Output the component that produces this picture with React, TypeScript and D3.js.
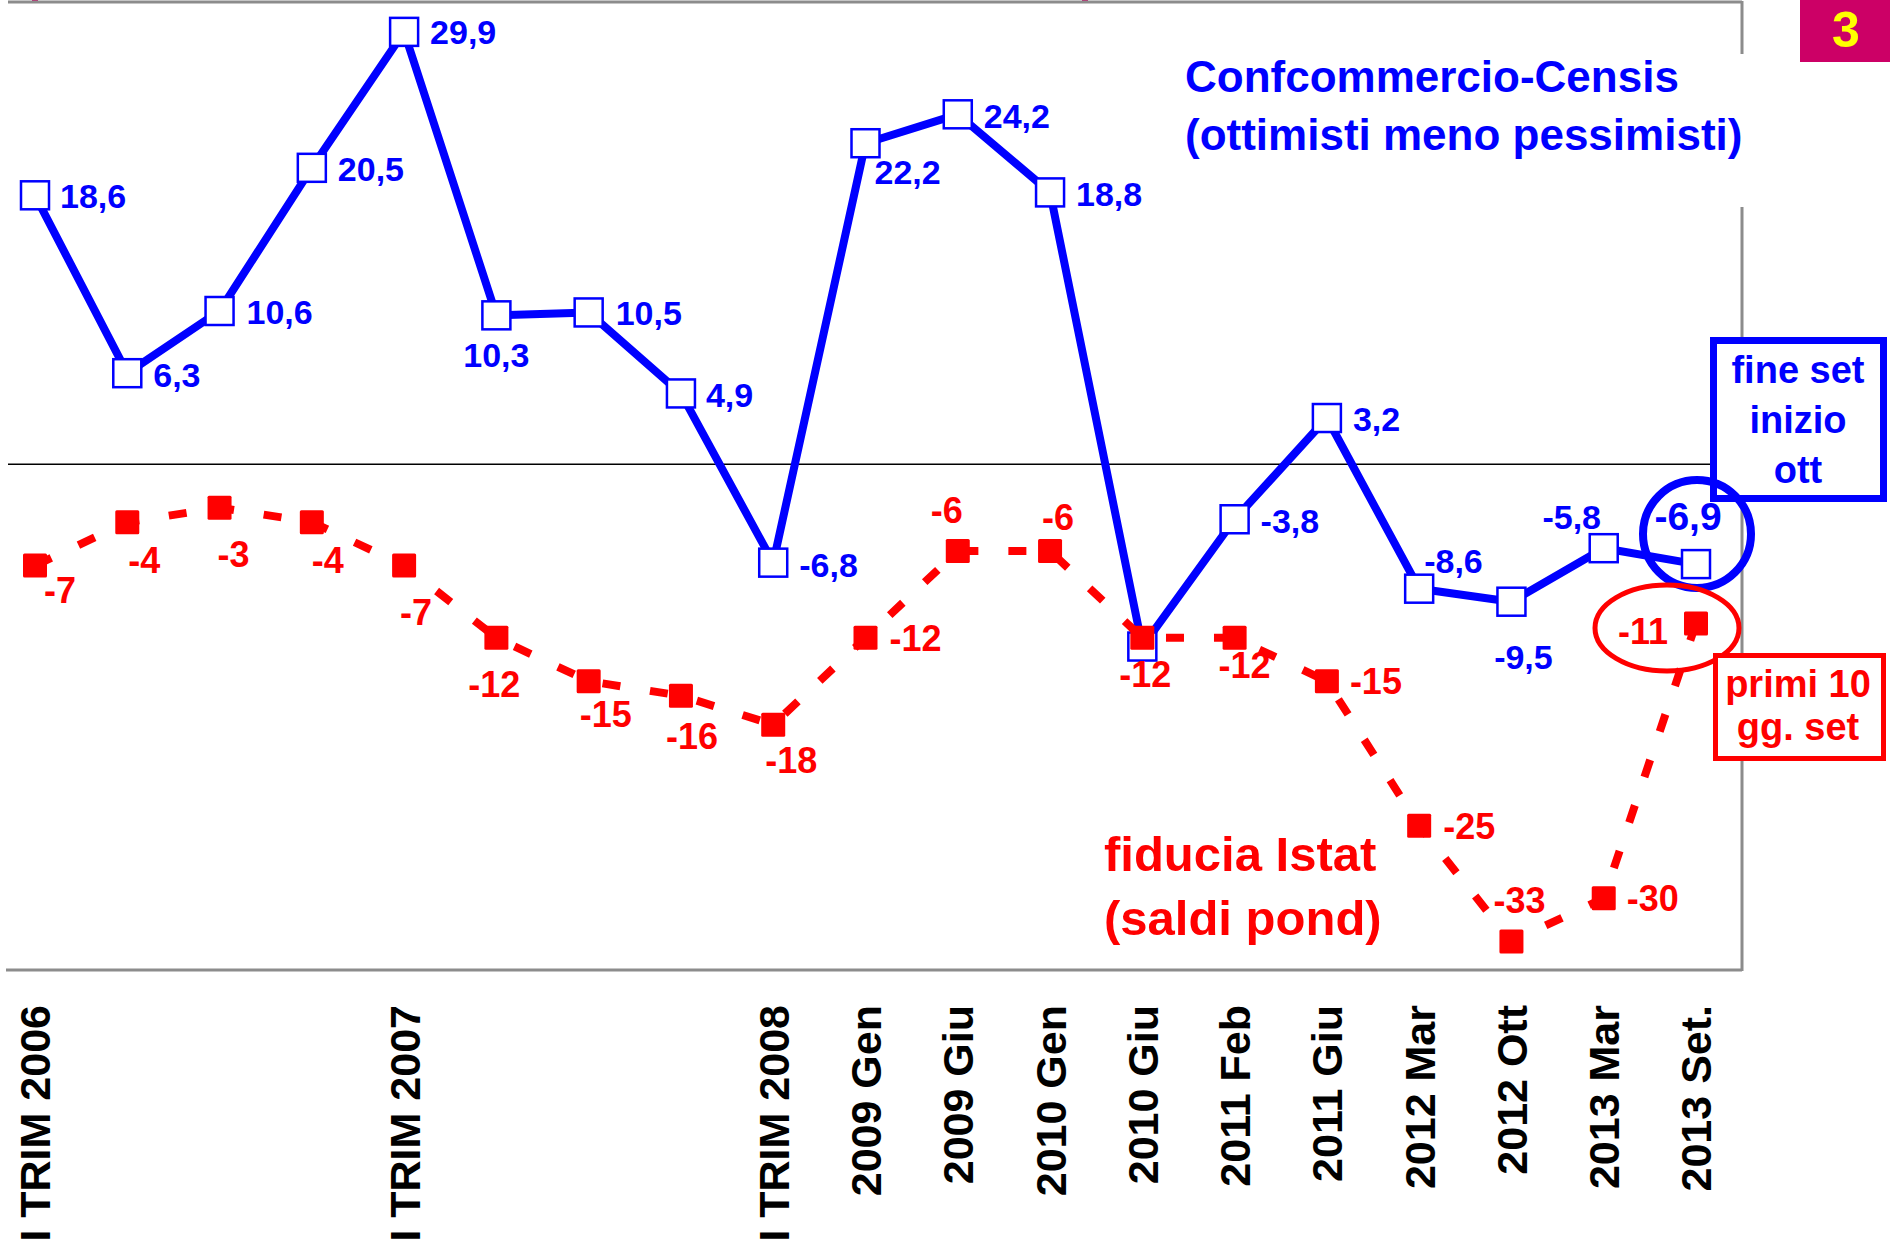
import React from 'react';
import * as d3 from 'd3';

// periods on the x axis (only some of them carry a tick label)
const periods = [
  'I TRIM 2006', 'II TRIM 2006', 'III TRIM 2006', 'IV TRIM 2006',
  'I TRIM 2007', 'II TRIM 2007', 'III TRIM 2007', 'IV TRIM 2007',
  'I TRIM 2008', '2009 Gen', '2009 Giu', '2010 Gen', '2010 Giu',
  '2011 Feb', '2011 Giu', '2012 Mar', '2012 Ott', '2013 Mar', '2013 Set.'
];
const tickLabels = [
  'I TRIM 2006', '', '', '', 'I TRIM 2007', '', '', '', 'I TRIM 2008',
  '2009 Gen', '2009 Giu', '2010 Gen', '2010 Giu', '2011 Feb', '2011 Giu',
  '2012 Mar', '2012 Ott', '2013 Mar', '2013 Set.'
];

// Confcommercio-Censis (ottimisti meno pessimisti)
const confcommercio = [18.6, 6.3, 10.6, 20.5, 29.9, 10.3, 10.5, 4.9, -6.8, 22.2, 24.2, 18.8, -12.6, -3.8, 3.2, -8.6, -9.5, -5.8, -6.9];
const confHidden = [12]; // no value label drawn for this point

// fiducia Istat (saldi pond)
const istat = [-7, -4, -3, -4, -7, -12, -15, -16, -18, -12, -6, -6, -12, -12, -15, -25, -33, -30, -11];

// label placement relative to the point: [dx, dy, anchor]
const blueLabelPos: [number, number, string][] = [
  [25, 0, 'start'], [26, 2, 'start'], [27, 1, 'start'], [26, 1, 'start'], [26, 0, 'start'],
  [0, 39, 'middle'], [27, 0, 'start'], [25, 1, 'start'], [26, 2, 'start'], [9, 29, 'start'],
  [26, 1, 'start'], [26, 1, 'start'], [0, 0, 'start'], [26, 1, 'start'], [26, 1, 'start'],
  [5, -28, 'start'], [12, 55, 'middle'], [-32, -31, 'middle'], [-8, -48, 'middle']
];
const redLabelPos: [number, number, string][] = [
  [25, 24, 'middle'], [17, 38, 'middle'], [14, 46, 'middle'], [16, 38, 'middle'], [12, 46, 'middle'],
  [-2, 46, 'middle'], [17, 33, 'middle'], [11, 40, 'middle'], [18, 35, 'middle'], [24, 0, 'start'],
  [-11, -41, 'middle'], [8, -34, 'middle'], [3, 36, 'middle'], [10, 27, 'middle'], [23, 0, 'start'],
  [24, 0, 'start'], [8, -42, 'middle'], [23, 0, 'start'], [-53, 8, 'middle']
];

const W = 1890;
const H = 1246;
const BLUE = '#0000FF';
const RED = '#FF0000';
const GRAY = '#8c8c8c';
const FONT = '"Liberation Sans", Arial, Helvetica, sans-serif';

const fmt = (v: number) => String(v).replace('.', ',');

const App = () => {
  const x = d3.scalePoint<string>().domain(periods).range([35, 1696]);
  const y = d3.scaleLinear().domain([-35, 32]).range([970.5, 1.5]);

  const line = d3.line<number>()
    .x((_, i) => x(periods[i]) as number)
    .y(d => y(d));

  const frameRight = 1742;

  return (
    <svg width={W} height={H} style={{ position: 'absolute', left: 0, top: 0, background: '#fff' }}
      fontFamily={FONT} fontWeight="bold">
      <rect x={0} y={0} width={W} height={H} fill="#fff" />

      {/* cut-off marks from the slide title */}
      <rect x={32} y={0} width={6} height={2} fill="#CC0066" />
      <rect x={1082} y={0} width={6} height={2} fill="#CC0066" />

      {/* frame */}
      <line x1={8} x2={frameRight} y1={2} y2={2} stroke={GRAY} strokeWidth={3} />
      <line x1={6} x2={frameRight} y1={970} y2={970} stroke={GRAY} strokeWidth={3} />
      <line x1={frameRight} x2={frameRight} y1={1} y2={971} stroke={GRAY} strokeWidth={3} />

      {/* zero line */}
      <line x1={8} x2={frameRight} y1={y(0)} y2={y(0)} stroke="#000" strokeWidth={1.5} />

      {/* blue series */}
      <path d={line(confcommercio) || ''} fill="none" stroke={BLUE} strokeWidth={8} strokeLinejoin="round" />
      {confcommercio.map((v, i) => (
        <rect key={'bs' + i} x={(x(periods[i]) as number) - 14} y={y(v) - 14} width={28} height={28}
          fill="#fff" stroke={BLUE} strokeWidth={2.5} />
      ))}

      {/* red series */}
      <path d={line(istat) || ''} fill="none" stroke={RED} strokeWidth={8} strokeDasharray="18 30" />
      {istat.map((v, i) => (
        <rect key={'rs' + i} x={(x(periods[i]) as number) - 12} y={y(v) - 12} width={24} height={24}
          fill={RED} rx={1.5} />
      ))}

      {/* value labels */}
      {confcommercio.map((v, i) => confHidden.includes(i) ? null : (
        <text key={'bl' + i} x={(x(periods[i]) as number) + blueLabelPos[i][0]} y={y(v) + blueLabelPos[i][1]}
          dy="0.36em" textAnchor={blueLabelPos[i][2]} fill={BLUE} fontSize={i === 18 ? 39 : 34}>
          {fmt(v)}
        </text>
      ))}
      {istat.map((v, i) => (
        <text key={'rl' + i} x={(x(periods[i]) as number) + redLabelPos[i][0]} y={y(v) + redLabelPos[i][1]}
          dy="0.36em" textAnchor={redLabelPos[i][2]} fill={RED} fontSize={36}>
          {fmt(v)}
        </text>
      ))}

      {/* x tick labels */}
      {tickLabels.map((t, i) => t ? (
        <text key={'t' + i} transform={`translate(${x(periods[i])},1005) rotate(-90)`}
          dy="0.36em" textAnchor="end" fill="#000" fontSize={43}>
          {t}
        </text>
      ) : null)}

      {/* Confcommercio title */}
      <rect x={1180} y={54} width={570} height={153} fill="#fff" />
      <text x={1185} y={92} fill={BLUE} fontSize={44}>Confcommercio-Censis</text>
      <text x={1185} y={150} fill={BLUE} fontSize={44}>(ottimisti meno pessimisti)</text>

      {/* Istat title */}
      <text x={1104} y={871} fill={RED} fontSize={49}>fiducia Istat</text>
      <text x={1104} y={935} fill={RED} fontSize={49}>(saldi pond)</text>

      {/* blue callout */}
      <rect x={1713.5} y={340.5} width={170} height={158} fill="#fff" stroke={BLUE} strokeWidth={7} />
      <text x={1798} y={383} textAnchor="middle" fill={BLUE} fontSize={38}>fine set</text>
      <text x={1798} y={433} textAnchor="middle" fill={BLUE} fontSize={38}>inizio</text>
      <text x={1798} y={483} textAnchor="middle" fill={BLUE} fontSize={38}>ott</text>
      <circle cx={1697} cy={534} r={54} fill="none" stroke={BLUE} strokeWidth={8} />

      {/* red callout */}
      <ellipse cx={1667} cy={628} rx={72} ry={43} fill="none" stroke={RED} strokeWidth={5} />
      <rect x={1715.5} y={655.5} width={168} height={103} fill="#fff" stroke={RED} strokeWidth={5} />
      <text x={1798} y={697} textAnchor="middle" fill={RED} fontSize={38}>primi 10</text>
      <text x={1798} y={740} textAnchor="middle" fill={RED} fontSize={38}>gg. set</text>

      {/* slide number */}
      <rect x={1800} y={0} width={90} height={62} fill="#CC0066" />
      <text x={1846} y={47} textAnchor="middle" fill="#FFFF00" fontSize={50}>3</text>
    </svg>
  );
};

export default App;
